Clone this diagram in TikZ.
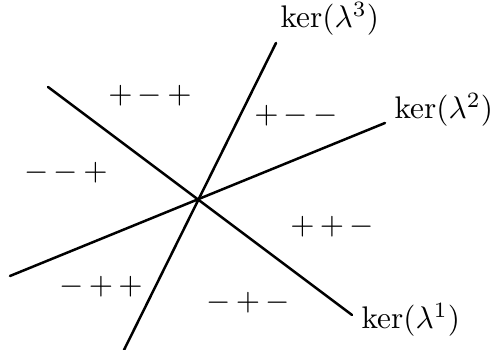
\documentclass[tikz,border=0pt]{standalone}
\usepackage{amsmath,amssymb}
\usepackage{tikz}
\usetikzlibrary{positioning}

\begin{document}
\begin{tikzpicture}[
  x=0.32pt,y=-0.32pt,
  kerline/.style={thick,line cap=round},
  kerlabel/.style={anchor=west,inner sep=0pt},
  sign/.style={inner sep=0pt}
]
\useasboundingbox (0,0) rectangle (491,350);
\coordinate (o) at (199,200);
% the three kernels
\coordinate (a1) at (48,87);
\coordinate (b1) at (352,315);
\coordinate (a2) at (10,276);
\coordinate (b2) at (385,123);
\coordinate (a3) at (124,350);
\coordinate (b3) at (276,43);
\draw[kerline] (a1) -- (b1);
\draw[kerline] (a2) -- (b2);
\draw[kerline] (a3) -- (b3);
\node[kerlabel] (k1) at (361,320) {$\ker(\lambda^1)$};
\node[kerlabel] (k2) at (394,110) {$\ker(\lambda^2)$};
\node[kerlabel] (k3) at (280,19) {$\ker(\lambda^3)$};
% sign patterns
\node[sign] (s1) at (150,96) {${+}\,{-}\,{+}$};
\node[sign] (s2) at (296,116) {${+}\,{-}\,{-}$};
\node[sign] (s3) at (66,173) {${-}\,{-}\,{+}$};
\node[sign] (s4) at (332,227) {${+}\,{+}\,{-}$};
\node[sign] (s5) at (101,287) {${-}\,{+}\,{+}$};
\node[sign] (s6) at (248,303) {${-}\,{+}\,{-}$};
\end{tikzpicture}
\end{document}
